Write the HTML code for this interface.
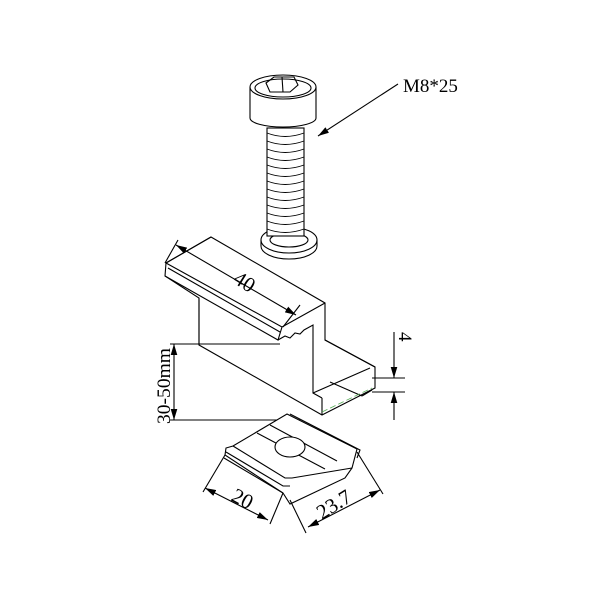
<!DOCTYPE html>
<html><head><style>body{margin:0;background:#fff}svg{display:block}</style></head>
<body>
<svg width="600" height="600" viewBox="0 0 600 600" xmlns="http://www.w3.org/2000/svg" fill="none" stroke="#000" stroke-width="1.1" font-family="Liberation Serif, serif">
<defs><marker id="a" viewBox="0 0 10 6" refX="10" refY="3" markerWidth="10" markerHeight="6" orient="auto-start-reverse"><path d="M0,0L10,3L0,6z" fill="#000" stroke="none"/></marker></defs>
<!-- bolt -->
<path d="M250,87 L250,118 A33,9 0 0 0 316,118 L316,87" fill="#fff"/>
<ellipse cx="283" cy="87" rx="33" ry="12" fill="#fff"/>
<ellipse cx="283" cy="88" rx="28" ry="9"/>
<path d="M266,83 L274,77 L294,77 L298,85 L290,92 L270,92 Z"/>
<line x1="282" y1="77" x2="283" y2="92"/>
<ellipse cx="289" cy="240" rx="28" ry="13" fill="#fff"/>
<path d="M261,240 v6 a28,13 0 0 0 56,0 v-6"/>
<ellipse cx="289" cy="240" rx="19" ry="7"/>
<rect x="267" y="128" width="37" height="108" fill="#fff"/>
<g stroke-width="0.9">
<path d="M267,133 q18,7 37,0 M267,141 q18,7 37,0 M267,149 q18,7 37,0 M267,157 q18,7 37,0 M267,165 q18,7 37,0 M267,173 q18,7 37,0 M267,181 q18,7 37,0 M267,189 q18,7 37,0 M267,197 q18,7 37,0 M267,205 q18,7 37,0 M267,213 q18,7 37,0 M267,221 q18,7 37,0 M267,229 q18,7 37,0"/>
</g>
<line x1="398" y1="84" x2="318" y2="136" marker-end="url(#a)"/>
<text x="403" y="92" font-size="19" fill="#000" stroke="none">M8*25</text>
<!-- clamp -->
<path d="M211,237 L325,303 L325,340 L375,367 L375,388 L322,415 L199,345 L199,298 L165,276 L166,263 Z" fill="#fff"/>
<path d="M166,263 L211,237 M166,263 L282,327 L325,303 M165,276 L278,340 L282,327 M278,340 L285,336 L290,338 L295,333 L300,334 L304,330 L313,325 L313,393 L322,398 M322,398 L322,415 M313,393 L370,368 M325,340 L375,367 M199,298 L199,345 M168,268 L280,332 M330,382 L362,396 M362,396 L372,390"/>
<line x1="322" y1="412" x2="372" y2="388" stroke="#5a5" stroke-dasharray="6,3" stroke-width="0.8"/>
<!-- 40 dim -->
<line x1="176" y1="245" x2="296" y2="315" marker-start="url(#a)" marker-end="url(#a)"/>
<line x1="165" y1="263" x2="178" y2="240"/><line x1="283" y1="327" x2="300" y2="305"/>
<text x="0" y="0" font-size="21" fill="#000" stroke="none" transform="translate(232,282) rotate(32)">40</text>
<!-- 30-50 dim -->
<line x1="170" y1="344" x2="280" y2="344"/><line x1="170" y1="420" x2="300" y2="420"/>
<line x1="174" y1="344" x2="174" y2="420" marker-start="url(#a)" marker-end="url(#a)"/>
<text font-size="19" fill="#000" stroke="none" transform="translate(170,424) rotate(-90)" textLength="76" lengthAdjust="spacingAndGlyphs">30-50mm</text>
<!-- 4 dim -->
<line x1="372" y1="378" x2="405" y2="378"/><line x1="372" y1="392" x2="405" y2="392"/>
<line x1="394" y1="332" x2="394" y2="378" marker-end="url(#a)"/>
<line x1="394" y1="420" x2="394" y2="392" marker-end="url(#a)"/>
<text font-size="19" fill="#000" stroke="none" transform="translate(399,332) rotate(90)">4</text>
<!-- nut -->
<path d="M287,414 L357,449 L352,468 L345,478 L290,504 L283,493 L225,455 L226,448 L233,446 L287,414 Z" fill="#fff"/>
<path d="M290,414 L360,450 L357,458 M233,446 L285,478 L292,478 L352,468 M226,452 L283,486 L290,486 M224,458 L283,493 M257,433 L325,469 M270,425 L337,461"/>
<ellipse cx="290" cy="447" rx="15" ry="10" fill="#fff"/>
<line x1="205" y1="488" x2="268" y2="520" marker-start="url(#a)" marker-end="url(#a)"/>
<line x1="203" y1="492" x2="225" y2="455"/><line x1="270" y1="524" x2="283" y2="493"/>
<text font-size="21" fill="#000" stroke="none" transform="translate(230,500) rotate(28)">20</text>
<line x1="308" y1="527" x2="380" y2="490" marker-start="url(#a)" marker-end="url(#a)"/>
<line x1="306" y1="533" x2="290" y2="500"/><line x1="383" y1="494" x2="357" y2="452"/>
<text font-size="21" fill="#000" stroke="none" transform="translate(322,520) rotate(-32)">23.7</text>
</svg>
</body></html>
